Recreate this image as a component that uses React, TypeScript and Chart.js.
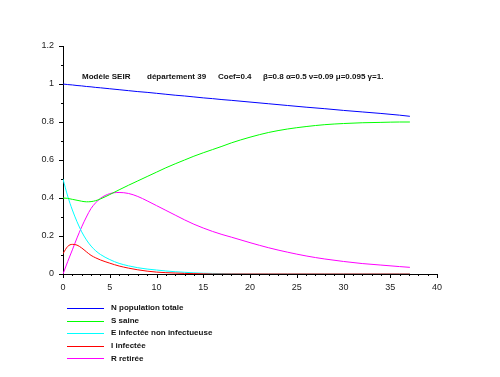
import React, { useEffect, useRef } from "react";
import { Chart, registerables } from "chart.js";

Chart.register(...registerables);

// ---------- data ----------
const T = [0, 0.5, 1, 1.5, 2, 2.5, 3, 3.5, 4, 5, 6, 7, 8, 9, 10, 11, 12, 13, 14, 15, 16, 17, 18, 20, 22, 24, 26, 28, 30, 32, 34, 36, 37.1];

const N_VALUES = [1.0, 0.997, 0.995, 0.992, 0.99, 0.987, 0.985, 0.982, 0.98, 0.975, 0.97, 0.965, 0.96, 0.956, 0.951, 0.946, 0.941, 0.937, 0.932, 0.927, 0.923, 0.918, 0.914, 0.905, 0.896, 0.887, 0.878, 0.87, 0.861, 0.853, 0.845, 0.836, 0.83];

const S_VALUES = [0.4, 0.398, 0.393, 0.388, 0.383, 0.38, 0.381, 0.386, 0.395, 0.418, 0.443, 0.467, 0.49, 0.513, 0.536, 0.559, 0.58, 0.6, 0.62, 0.638, 0.655, 0.672, 0.69, 0.72, 0.745, 0.763, 0.776, 0.786, 0.792, 0.796, 0.798, 0.8, 0.8];

const E_VALUES = [0.5, 0.41, 0.337, 0.275, 0.222, 0.18, 0.147, 0.122, 0.103, 0.076, 0.056, 0.043, 0.033, 0.026, 0.021, 0.016, 0.012, 0.009, 0.006, 0.004, 0.003, 0.002, 0.001, 0, 0, 0, 0, 0, 0, 0, 0, 0, 0];

const I_VALUES = [0.107, 0.145, 0.156, 0.152, 0.137, 0.117, 0.098, 0.085, 0.074, 0.057, 0.042, 0.031, 0.022, 0.015, 0.01, 0.007, 0.005, 0.003, 0.002, 0.001, 0, 0, 0, 0, 0, 0, 0, 0, 0, 0, 0, 0, 0];

const R_VALUES = [0, 0.065, 0.127, 0.19, 0.248, 0.3, 0.345, 0.375, 0.398, 0.423, 0.429, 0.424, 0.408, 0.385, 0.36, 0.335, 0.31, 0.285, 0.262, 0.242, 0.224, 0.208, 0.194, 0.165, 0.138, 0.115, 0.095, 0.079, 0.066, 0.055, 0.047, 0.039, 0.035];

const SERIES_LABELS = ["N population totale", "S saine", "E infectée non infectueuse", "I infectée", "R retirée"];
const SERIES_VALUES = [N_VALUES, S_VALUES, E_VALUES, I_VALUES, R_VALUES];
const SERIES_COLORS = ["#0000ff", "#00ff00", "#00ffff", "#ff0000", "#ff00ff"];

const X_TICKS = [0, 5, 10, 15, 20, 25, 30, 35, 40];
const Y_TICKS = [0, 0.2, 0.4, 0.6, 0.8, 1, 1.2];
const X_MINOR_STEP = 1;
const Y_MINOR_STEP = 0.1;

const TITLE_PARTS = ["Modèle SEIR", "département 39", "Coef=0.4", "β=0.8 α=0.5 ν=0.09 μ=0.095 γ=1."];

// ---------- drawing helpers ----------
const FONT = "'Liberation Sans', Arial, sans-serif";
const TITLE_X = [82, 147, 218, 263];

const decorPlugin = {
  id: "decor",
  afterDraw(chart: any) {
    const ctx = chart.ctx as CanvasRenderingContext2D;
    const xs = chart.scales.x;
    const ys = chart.scales.y;
    const area = chart.chartArea;
    ctx.save();
    // tick marks
    ctx.strokeStyle = "#000";
    ctx.lineWidth = 1;
    ctx.beginPath();
    for (let v = xs.min; v <= xs.max + 1e-9; v += X_MINOR_STEP) {
      const major = X_TICKS.some((t) => Math.abs(t - v) < 1e-6);
      const px = Math.round(xs.getPixelForValue(v)) + 0.5;
      ctx.moveTo(px, area.bottom);
      ctx.lineTo(px, area.bottom + (major ? 4 : 2));
    }
    for (let v = ys.min; v <= ys.max + 1e-9; v += Y_MINOR_STEP) {
      const major = Y_TICKS.some((t) => Math.abs(t - v) < 1e-6);
      const py = Math.round(ys.getPixelForValue(v)) + 0.5;
      ctx.moveTo(area.left, py);
      ctx.lineTo(area.left - (major ? 4 : 2), py);
    }
    ctx.stroke();

    // title inside plot
    ctx.fillStyle = "#111";
    ctx.font = `bold 8px ${FONT}`;
    ctx.textBaseline = "middle";
    ctx.textAlign = "left";
    TITLE_PARTS.forEach((p, i) => ctx.fillText(p, TITLE_X[i], 77));

    // legend below
    chart.data.datasets.forEach((ds: any, i: number) => {
      const y = 308 + i * 12.6;
      ctx.strokeStyle = ds.borderColor;
      ctx.beginPath();
      ctx.moveTo(67, Math.round(y) + 0.5);
      ctx.lineTo(104, Math.round(y) + 0.5);
      ctx.stroke();
      ctx.fillStyle = "#111";
      ctx.fillText(ds.label, 111, y);
    });
    ctx.restore();
  },
};

export default function App() {
  const ref = useRef<HTMLCanvasElement | null>(null);

  useEffect(() => {
    if (!ref.current) return;
    const datasets = SERIES_LABELS.map((label, i) => ({
      label,
      data: T.map((t, k) => ({ x: t, y: SERIES_VALUES[i][k] })),
      borderColor: SERIES_COLORS[i],
      backgroundColor: SERIES_COLORS[i],
      borderWidth: 1,
      pointRadius: 0,
      cubicInterpolationMode: "monotone" as const,
      fill: false,
      order: i === 3 ? -1 : i,
    }));

    const chart = new Chart(ref.current, {
      type: "line",
      data: { datasets },
      options: {
        responsive: false,
        animation: false,
        layout: { padding: { left: 0, top: 46, right: 63, bottom: 73 } },
        plugins: { legend: { display: false }, tooltip: { enabled: false }, title: { display: false } },
        scales: {
          x: {
            type: "linear",
            min: 0,
            max: 40,
            grid: { display: false, drawTicks: false },
            border: { display: true, color: "#000", width: 1 },
            afterBuildTicks: (s: any) => {
              s.ticks = X_TICKS.map((v) => ({ value: v }));
            },
            afterFit: (s: any) => {
              s.height = 30;
            },
            ticks: {
              color: "#222",
              font: { family: FONT, size: 9 },
              padding: 8,
              maxRotation: 0,
              autoSkip: false,
              callback: (v: any) => String(v),
            },
          },
          y: {
            type: "linear",
            min: 0,
            max: 1.2,
            grid: { display: false, drawTicks: false },
            border: { display: true, color: "#000", width: 1 },
            afterBuildTicks: (s: any) => {
              s.ticks = Y_TICKS.map((v) => ({ value: v }));
            },
            afterFit: (s: any) => {
              s.width = 63;
            },
            ticks: {
              color: "#222",
              font: { family: FONT, size: 9 },
              padding: 9,
              autoSkip: false,
              callback: (v: any) => String(Number(Number(v).toFixed(1))),
            },
          },
        },
      },
      plugins: [decorPlugin],
    });
    return () => chart.destroy();
  }, []);

  return (
    <div style={{ position: "fixed", left: 0, top: 0, width: 500, height: 377, background: "#fff" }}>
      <canvas ref={ref} width={500} height={377} style={{ width: 500, height: 377, display: "block" }} />
    </div>
  );
}
